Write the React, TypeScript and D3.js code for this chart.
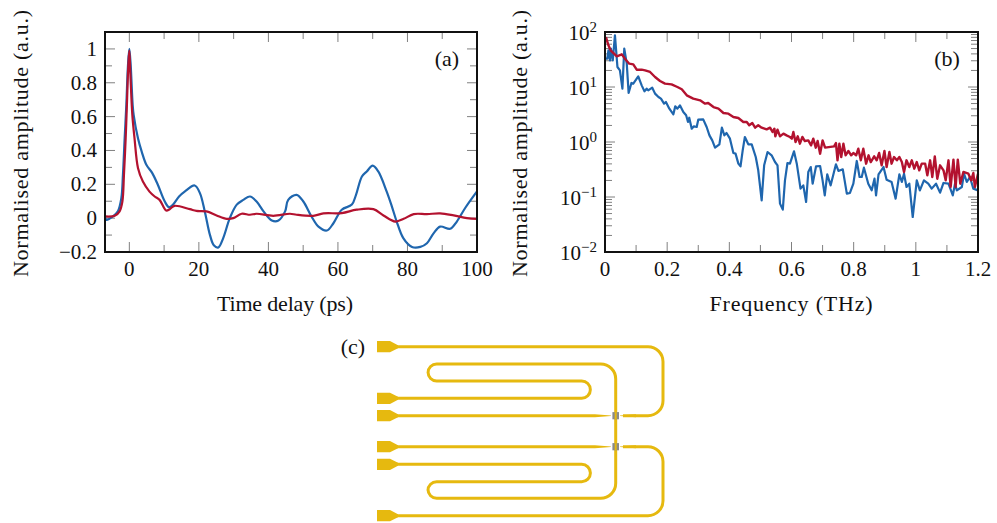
import React from "react";
import * as d3 from "d3";

const W = 997, H = 523;
const BLUE = "#1f66ae", RED = "#b3122f", GOLD = "#e6b90f", FONT = "'Liberation Serif', serif";

// (a) time domain
const blueT = [-7,-6.6,-4.7,-3.3,-2.3,-1.84,-1.35,-0.86,-0.4,0,0.4,0.95,1.24,2.5,3.6,4.9,6.6,8.2,10.2,11.4,12.5,14.3,16,18.8,20.3,21.7,23.2,24.3,25.6,27,28.9,30.9,32.8,34.7,36.6,38.6,41,42.9,44.8,45.7,48.1,50,52.4,54.4,56.8,58.7,61.1,64,65.2,66.9,68.3,70,71.6,74,75.5,76.9,78.8,81.3,83.7,85.6,87.5,89.4,92.3,94.2,96.6,100];
const blueA = [0.01,-0.01,0.01,0.04,0.118,0.256,0.47,0.67,0.9,1,0.9,0.67,0.61,0.47,0.39,0.315,0.266,0.197,0.098,0.065,0.079,0.128,0.158,0.193,0.148,0.04,-0.1,-0.16,-0.173,-0.118,0,0.08,0.108,0.128,0.098,0.04,-0.014,-0.014,0.04,0.108,0.138,0.1,0.01,-0.05,-0.073,-0.03,0.05,0.08,0.138,0.246,0.276,0.31,0.276,0.158,0.07,-0.02,-0.118,-0.17,-0.17,-0.148,-0.09,-0.05,-0.063,-0.02,0.06,0.158];
const redT = [-7,-4.2,-2.8,-2,-1.55,-1.06,-0.7,-0.3,0,0.3,0.86,1.5,2.5,3.9,5.8,7.3,8.7,10.6,11.6,13,17.4,19.3,22.2,25.1,28,29.9,32.3,34.7,36.6,41.4,46.2,48.1,52.9,55.8,61.1,65.4,70.2,73.1,76.5,78.9,81.8,85.6,89.4,93.3,97.1,100];
const redA = [0.01,0.014,0.04,0.098,0.256,0.47,0.67,0.9,0.99,0.85,0.61,0.47,0.295,0.216,0.157,0.128,0.108,0.045,0.053,0.073,0.053,0.043,0.04,0.016,-0.004,0,0.026,0.02,0.026,0.014,0.026,0.02,0.014,0.028,0.03,0.05,0.053,0.016,-0.02,-0.004,0.024,0.024,0.028,0.016,0,-0.004];

// (b) spectrum: log10 of the amplitude against frequency in THz
const blueF = [0,.0075,.011,.016,.019,.025,.032,.04,.048,.056,.062,.07,.076,.085,.091,.107,.118,.127,.134,.139,.152,.161,.172,.18,.19,.196,.207,.22,.226,.233,.241,.252,.261,.267,.271,.279,.286,.295,.3,.316,.327,.336,.345,.354,.368,.376,.384,.391,.402,.413,.42,.429,.436,.443,.45,.461,.472,.485,.493,.504,.512,.523,.536,.547,.555,.563,.572,.579,.587,.595,.608,.617,.629,.638,.647,.654,.662,.668,.679,.692,.7,.707,.715,.726,.743,.751,.765,.778,.788,.799,.81,.819,.826,.833,.847,.858,.867,.872,.88,.896,.906,.922,.935,.947,.955,.962,.97,.979,.99,1.003,1.013,1.026,1.04,1.051,1.065,1.078,1.089,1.105,1.119,1.126,1.132,1.148,1.155,1.164,1.174,1.185,1.2];
const blueL = [1.515,1.515,1.667,1.485,1.697,1.485,1.939,1.364,1.303,.97,1.697,1.424,.891,1.073,1.061,1.194,1.03,.921,.97,.939,.988,.879,.818,.788,.697,.727,.606,.503,.648,.606,.667,.545,.485,.364,.442,.242,.285,.273,.406,.412,.273,.121,.03,-.103,-.042,.261,.121,.164,.061,-.2,-.212,-.394,-.442,-.152,.091,-.042,-.042,-.273,-.515,-1.06,-.424,-.182,-.242,-.364,-.424,-1.121,-1.23,-.697,-.382,-.394,-.17,-.394,-.848,-.788,-1.091,-.545,-.455,-.758,-.442,-.436,-.697,-.97,-.588,-.788,-.406,-.527,-.497,-.939,-.927,-.758,-.345,-.636,-.636,-.467,-.758,-.879,-.667,-.97,-.588,-.455,-.685,-.727,-1.03,-.588,-.727,-.576,-.818,-.758,-1.364,-.697,-.879,-.697,-.758,-.848,-.758,-.921,-.745,-.758,-.97,-.758,-.879,-.818,-.576,-.727,-.636,-.848,-.88];
const redF = [.003,.011,.018,.029,.038,.054,.064,.078,.091,.102,.118,.129,.145,.161,.177,.193,.214,.233,.247,.263,.284,.306,.322,.332,.349,.365,.381,.397,.413,.429,.445,.456,.464,.474,.483,.493,.504,.52,.531,.539,.545,.548,.555,.563,.574,.584,.595,.601,.606,.613,.62,.627,.635,.643,.654,.663,.67,.678,.684,.692,.7,.708,.737,.743,.748,.754,.76,.767,.774,.783,.792,.799,.808,.815,.823,.831,.84,.848,.855,.866,.874,.882,.89,.899,.906,.915,.922,.93,.939,.947,.955,.962,.97,.979,.987,.995,1.003,1.011,1.019,1.03,1.037,1.046,1.053,1.061,1.069,1.078,1.089,1.096,1.105,1.112,1.121,1.128,1.135,1.143,1.153,1.169,1.178,1.185,1.19,1.2];
const redL = [1.909,1.758,1.667,1.606,1.558,1.594,1.515,1.424,1.412,1.315,1.315,1.303,1.273,1.182,1.109,1.061,1.048,1,.958,.848,.788,.758,.697,.709,.636,.606,.527,.515,.455,.436,.364,.364,.303,.345,.261,.303,.261,.23,.261,.182,.242,.103,.224,.103,.152,.121,.091,.061,.182,0,.103,-.03,.091,.018,.03,-.061,.061,-.103,.018,-.212,.03,-.103,-.079,-.018,-.333,-.03,-.273,-.03,-.242,-.164,-.242,-.2,-.242,-.121,-.333,-.121,-.394,-.242,-.364,-.261,-.333,-.2,-.424,-.164,-.455,-.182,-.394,-.273,-.333,-.273,-.364,-.545,-.333,-.455,-.333,-.485,-.364,-.515,-.394,-.394,-.606,-.333,-.636,-.261,-.667,-.424,-.515,-.697,-.333,-.818,-.321,-.818,-.321,-.758,-.545,-.576,-.697,-.564,-.818,-.576];

const xTicksA = [0, 20, 40, 60, 80, 100];
const yTicksA = [-0.2, 0, 0.2, 0.4, 0.6, 0.8, 1];
const xTicksB = [0, 0.2, 0.4, 0.6, 0.8, 1, 1.2];
const yExpB = [-2, -1, 0, 1, 2];
const yTitle = "Normalised amplitude (a.u.)";

const box = { top: 32, bottom: 252 };
const xA = d3.scaleLinear().domain([-7, 100]).range([105, 477]);
const yA = d3.scaleLinear().domain([-0.2, 1.1]).range([box.bottom, box.top]);
const xB = d3.scaleLinear().domain([0, 1.2]).range([605, 978]);
const yB = d3.scaleLog().domain([0.01, 100]).range([box.bottom, box.top]);

const fmt = (v: number) => (v < 0 ? "\u2212" + Math.abs(v) : String(v));

function Frame({ x, y, xMajor, xMinor, yMajor, yMinor }: any) {
  const [l, r] = x.range();
  const [b, t] = y.range();
  const M = 10, m = 7;
  const tick = "#808080";
  return (
    <g stroke={tick} strokeWidth={1} fill="none">
      {xMajor.map((v: number) => <path key={"M" + v} d={`M${x(v)},${b}v${-M}M${x(v)},${t}v${M}`} />)}
      {xMinor.map((v: number) => <path key={"m" + v} d={`M${x(v)},${b}v${-m}M${x(v)},${t}v${m}`} />)}
      {yMajor.map((v: number) => <path key={"YM" + v} d={`M${l},${y(v)}h${M}M${r},${y(v)}h${-M}`} />)}
      {yMinor.map((v: number) => <path key={"Ym" + v} d={`M${l},${y(v)}h${m}M${r},${y(v)}h${-m}`} />)}
    </g>
  );
}

function Border({ x, y }: any) {
  const [l, r] = x.range();
  const [b, t] = y.range();
  return <rect x={l} y={t} width={r - l} height={b - t} fill="none" stroke="#111" strokeWidth={2} />;
}

function pts(xs: number[], ys: number[], sx: any, sy: any, log = false): string {
  const line = d3.line<number>()
    .x((_, i) => sx(xs[i]))
    .y((_, i) => sy(log ? Math.pow(10, ys[i]) : ys[i]));
  if (!log) line.curve(d3.curveCatmullRom.alpha(0.5));
  return line(ys) || "";
}

// (c) device schematic
const padX = 377;
const padYs = [346.7, 398.3, 415.7, 446.7, 464.3, 515.7];
const crossX = 615.7;
const junctions = [415.7, 446.7];

function padPath(y: number) {
  const p = d3.path();
  p.moveTo(padX, y - 5.6); p.lineTo(390, y - 5.6); p.lineTo(398, y - 1.5);
  p.lineTo(398, y + 1.5); p.lineTo(390, y + 5.6); p.lineTo(padX, y + 5.6); p.closePath();
  return p.toString();
}
function taper(tipX: number, baseX: number, y: number) {
  const p = d3.path();
  p.moveTo(baseX, y - 1.5); p.lineTo(tipX, y - 0.3); p.lineTo(tipX, y + 0.3); p.lineTo(baseX, y + 1.5); p.closePath();
  return p.toString();
}
function outerRoute(yStart: number, yEnd: number) {
  const s = yEnd > yStart ? 1 : -1, R = 15, xr = 663;
  const p = d3.path();
  p.moveTo(390, yStart);
  p.lineTo(xr - R, yStart);
  p.arcTo(xr, yStart, xr, yStart + s * R, R);
  p.lineTo(xr, yEnd - s * R);
  p.arcTo(xr, yEnd, xr - R, yEnd, R);
  p.lineTo(623, yEnd);
  return p.toString();
}
function snakeRoute(y0: number, y1: number, y2: number, yEnd: number) {
  const r = Math.abs(y1 - y0) / 2, R = 15, xl = 436.7, xr = 581.7;
  const s = y1 > y0 ? 1 : -1;
  const p = d3.path();
  p.moveTo(390, y0);
  p.lineTo(xr, y0);
  p.arcTo(xr + r, y0, xr + r, y0 + s * r, r);
  p.arcTo(xr + r, y1, xr, y1, r);
  p.lineTo(xl, y1);
  p.arcTo(xl - r, y1, xl - r, y1 + s * r, r);
  p.arcTo(xl - r, y2, xl, y2, r);
  p.lineTo(crossX - R, y2);
  p.arcTo(crossX, y2, crossX, y2 - s * R, R);
  p.lineTo(crossX, yEnd);
  return p.toString();
}

function Schematic() {
  return (
    <g>
      <g fill="none" stroke={GOLD} strokeWidth={3}>
        <path d={outerRoute(padYs[0], padYs[2])} />
        <path d={outerRoute(padYs[5], padYs[3])} />
        <path d={snakeRoute(padYs[1], 381, 364, 431)} />
        <path d={snakeRoute(padYs[4], 481.7, 498.3, 431)} />
        <path d={`M390,${padYs[2]}H595M390,${padYs[3]}H595`} />
      </g>
      <g fill={GOLD}>
        {padYs.map((y) => <path key={y} d={padPath(y)} />)}
        {junctions.map((y) => (
          <g key={y}>
            <path d={taper(611, 595, y)} />
            <path d={taper(620, 636, y)} />
          </g>
        ))}
      </g>
      {junctions.map((y) => (
        <g key={"j" + y}>
          <rect x={crossX - 3.3} y={y - 3.6} width={6.6} height={7.2} fill="#8b8b88" />
          <rect x={crossX - 1} y={y - 3.6} width={2} height={7.2} fill={GOLD} />
        </g>
      ))}
    </g>
  );
}

export default function App() {
  const tx = { fontFamily: FONT, fontSize: 21, fill: "#111" };
  const lab = { fontFamily: FONT, fontSize: 22, fill: "#111", textAnchor: "middle" as const };
  return (
    <svg width={W} height={H} viewBox={`0 0 ${W} ${H}`} style={{ position: "absolute", left: 0, top: 0, background: "#fff" }}>
      {/* panel a */}
      <Frame x={xA} y={yA}
        xMajor={xTicksA}
        xMinor={d3.range(10, 100, 20)}
        yMajor={yTicksA}
        yMinor={d3.range(-0.1, 1.05, 0.2)} />
      <path d={pts(blueT, blueA, xA, yA)} fill="none" stroke={BLUE} strokeWidth={2.2} strokeLinejoin="round" />
      <path d={pts(redT, redA, xA, yA)} fill="none" stroke={RED} strokeWidth={2.2} strokeLinejoin="round" />
      <Border x={xA} y={yA} />
      <g {...tx}>
        {xTicksA.map((v) => <text key={v} x={xA(v)} y={276} textAnchor="middle">{v}</text>)}
        {yTicksA.map((v) => <text key={v} x={97} y={yA(v) + 7} textAnchor="end">{fmt(v)}</text>)}
      </g>
      <text {...lab} x={447} y={66}>(a)</text>
      <text {...lab} x={285} y={311} textLength={136}>Time delay (ps)</text>
      <text {...lab} transform="translate(28,143.5) rotate(-90)" textLength={267}>{yTitle}</text>

      {/* panel b */}
      <Frame x={xB} y={yB}
        xMajor={xTicksB}
        xMinor={d3.range(0.1, 1.2, 0.2)}
        yMajor={yExpB.map((e) => Math.pow(10, e))}
        yMinor={yExpB.slice(0, -1).flatMap((e) => d3.range(2, 10).map((k) => k * Math.pow(10, e)))} />
      <path d={pts(blueF, blueL, xB, yB, true)} fill="none" stroke={BLUE} strokeWidth={2.2} strokeLinejoin="round" />
      <path d={pts(redF, redL, xB, yB, true)} fill="none" stroke={RED} strokeWidth={2.4} strokeLinejoin="round" />
      <Border x={xB} y={yB} />
      <g {...tx}>
        {xTicksB.map((v) => <text key={v} x={xB(v)} y={276} textAnchor="middle">{v}</text>)}
        {yExpB.map((e) => (
          <text key={e} x={597} y={yB(Math.pow(10, e)) + 8} textAnchor="end">
            10<tspan dy={-8} fontSize={15}>{e < 0 ? "\u2212" + -e : e}</tspan>
          </text>
        ))}
      </g>
      <text {...lab} x={947} y={66}>(b)</text>
      <text {...lab} x={791} y={311} textLength={163}>Frequency (THz)</text>
      <text {...lab} transform="translate(527,143.5) rotate(-90)" textLength={267}>{yTitle}</text>

      {/* panel c */}
      <Schematic />
      <text {...lab} x={353} y={354}>(c)</text>
    </svg>
  );
}
